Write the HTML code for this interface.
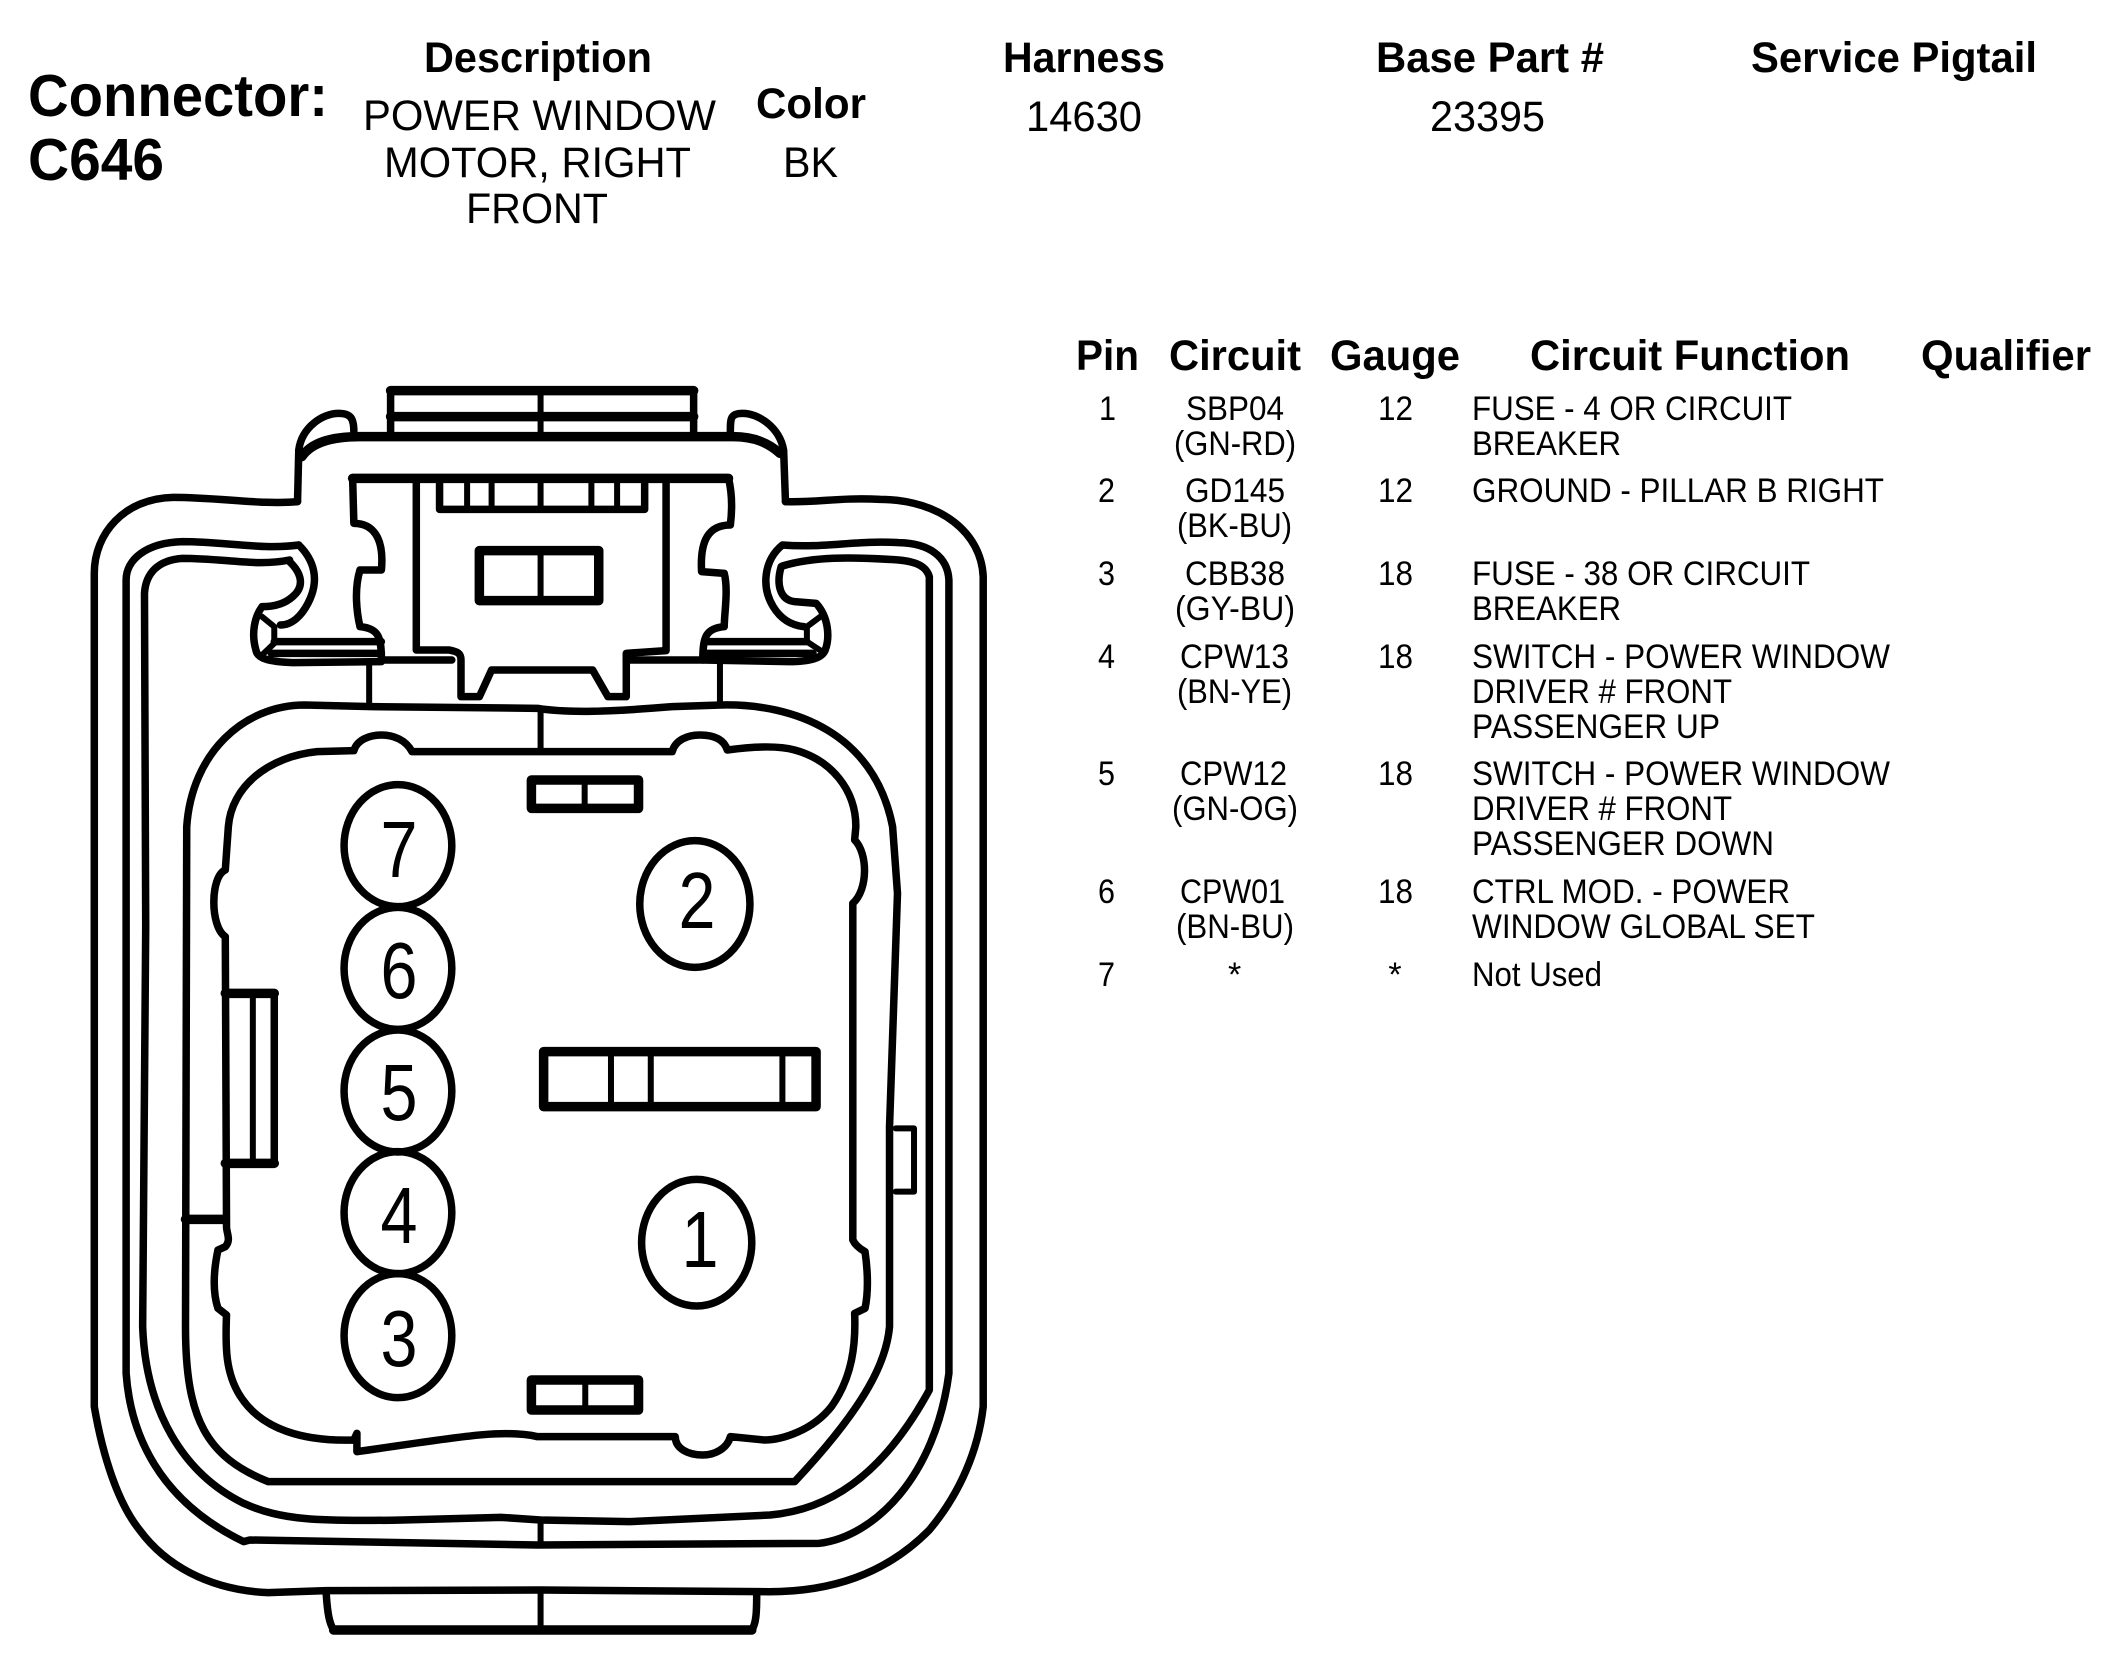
<!DOCTYPE html>
<html><head><meta charset="utf-8"><style>
html,body{margin:0;padding:0;background:#fff}
svg{display:block}
text{font-family:"Liberation Sans",sans-serif;fill:#000}
.b{font-weight:bold;font-size:43px}
.t{font-size:43px}
.c{font-size:34px}
.big{font-weight:bold;font-size:59px}
.d{font-size:80px;text-anchor:middle}
.l path,.l ellipse{fill:none;stroke:#000;stroke-width:7.5;vector-effect:non-scaling-stroke;stroke-linejoin:round;stroke-linecap:round}
.l .k{stroke-width:9.5}
.l .n{stroke-width:6}
</style></head><body>
<svg width="2124" height="1680" viewBox="0 0 2124 1680" xmlns="http://www.w3.org/2000/svg">
<rect width="2124" height="1680" fill="#fff"/>
<g class="l" transform="translate(60,360) scale(0.6122,0.33333)">
<path d="M388,425 C330,435 260,412 185,412 C105,415 56,520 56,640 L56,3140 C70,3290 95,3430 130,3510 C170,3610 240,3690 340,3698 L435,3692 L785,3690 L1145,3695 C1260,3700 1350,3640 1420,3510 C1470,3400 1500,3270 1508,3140 L1508,650 C1505,520 1440,420 1340,418 C1270,412 1240,428 1185,425"/>
<path d="M388,425 L390,270 C395,200 430,160 455,160 C475,160 480,175 480,215"/>
<path d="M1185,425 L1182,270 C1175,200 1140,160 1115,160 C1095,160 1095,175 1095,215"/>
<path d="M395,290 C410,250 440,230 490,230 L1100,230 C1135,230 1158,250 1176,280" class="k"/>
<path d="M540,228 V92 H1035 V228" />
<path class="k" d="M540,92 H1035 M540,170 H1035"/>
<path class="n" d="M785,92 V225"/>
<path d="M390,555 C330,570 270,545 200,545 C140,548 108,600 108,660 L108,3040 C115,3220 160,3420 300,3545 L310,3540 L780,3555 L1240,3550 C1330,3530 1430,3350 1452,3040 L1452,660 C1450,590 1420,550 1370,548 C1300,540 1250,565 1180,555 C1150,600 1145,680 1165,740 C1175,770 1190,795 1215,800"/>
<path d="M390,555 C415,600 425,660 405,730 C395,765 380,795 360,795"/>
<path d="M375,600 C320,620 270,595 200,595 C160,600 140,640 138,700 L140,1700 L135,2900 C140,3150 200,3340 300,3430 C360,3480 420,3485 560,3480 L720,3472 L785,3480 L930,3485 L1160,3465 C1250,3450 1340,3360 1420,3090 L1420,650 C1415,620 1400,605 1370,600 C1290,590 1230,590 1180,618"/>
<path d="M375,605 C395,640 400,680 380,710 C365,735 345,740 330,740 C318,770 312,820 320,870 C322,895 340,905 380,908 L525,905"/>
<path class="n" d="M330,770 L350,800 V850 L330,885"/>
<path d="M350,845 H525 M345,880 H525"/>
<path d="M1178,620 C1170,670 1175,720 1200,725 L1235,730 C1255,770 1258,830 1250,870 C1245,895 1225,905 1190,905 L1050,900"/>
<path class="n" d="M1242,770 L1220,800 V845 L1245,875"/>
<path d="M1055,845 H1220 M1055,880 H1230"/>
<path class="k" d="M478,355 H1092"/>
<path d="M478,355 L480,490 C510,490 530,530 525,630 L490,630 C480,690 485,760 490,800 C520,805 525,830 525,900 L640,900"/>
<path d="M1092,355 C1098,400 1098,450 1095,495 C1060,495 1045,540 1048,635 L1085,640 C1092,690 1085,760 1085,800 C1055,805 1050,830 1050,900 L925,900"/>
<path d="M582,365 V870 L635,870 C650,875 655,880 655,900 L655,1010 L685,1010 L705,930 L870,930 L895,1010 L925,1010 L925,880 L990,872 V365"/>
<path d="M620,370 V448 H955 V370"/>
<path class="n" d="M665,370 V440 M705,370 V440 M785,370 V440 M868,370 V440 M910,370 V440"/>
<path d="M685,572 H880 V722 H685 Z" class="k"/>
<path class="n" d="M785,572 V720"/>
<path class="n" d="M505,905 V1030 M1078,905 V1025 M785,1050 V1175"/>
<path d="M207,1400 C215,1180 300,1035 400,1035 L510,1040 L780,1045 C830,1060 900,1055 1000,1040 L1080,1035 C1200,1030 1330,1120 1360,1400 L1368,1600 L1355,2300 L1355,2900 C1350,3000 1320,3130 1200,3365 L340,3365 C240,3290 205,3180 205,2900 Z"/>
<path d="M575,1175 H1000 C1005,1140 1025,1125 1045,1125 C1070,1125 1085,1140 1090,1170 C1130,1160 1170,1155 1200,1170 C1260,1200 1300,1290 1300,1400 L1298,1440 C1320,1480 1320,1590 1295,1630 L1295,2640 C1300,2660 1310,2670 1315,2675 C1320,2740 1320,2800 1315,2845 L1298,2860 C1300,2950 1295,3050 1260,3140 C1230,3210 1180,3240 1150,3240 L1095,3230 C1090,3265 1070,3285 1050,3285 C1025,3285 1005,3265 1005,3230 L780,3230 C720,3205 640,3235 485,3275 L485,3220 L480,3240 C400,3245 330,3210 295,3110 C270,3040 270,2960 272,2865 L258,2845 C250,2800 250,2740 258,2670 L270,2660 C280,2640 272,2620 272,2600 L270,1730 C245,1700 245,1550 270,1530 L275,1400 C280,1280 340,1190 420,1175 L480,1172 C485,1140 505,1125 525,1125 C545,1125 565,1140 575,1175 Z"/>
<path d="M770,1260 H945 V1345 H770 Z" class="k"/>
<path class="n" d="M857,1260 V1345"/>
<path d="M770,3060 H945 V3150 H770 Z" class="k"/>
<path class="n" d="M858,3060 V3150"/>
<path d="M790,2075 H1235 V2240 H790 Z" class="k"/>
<path class="n" d="M900,2075 V2240 M965,2075 V2240 M1180,2075 V2240"/>
<path d="M270,1900 H350 V2410 H270"/>
<path class="k" d="M270,1900 H350 M270,2410 H350"/>
<path class="n" d="M315,1900 V2410"/>
<path class="k" d="M205,2578 H270"/>
<path class="n" d="M1365,2305 H1395 V2495 H1365"/>
<path class="n" d="M785,3490 V3550"/>
<path d="M435,3705 C437,3760 440,3790 447,3810 L1130,3810 C1137,3790 1138,3760 1138,3705"/>
<path class="k" d="M447,3810 H1130"/>
<path class="n" d="M785,3700 V3815"/>
<ellipse cx="552" cy="1457" rx="88" ry="183"/>
<ellipse cx="552" cy="1825" rx="88" ry="183"/>
<ellipse cx="552" cy="2193" rx="88" ry="183"/>
<ellipse cx="552" cy="2558" rx="88" ry="183"/>
<ellipse cx="552" cy="2927" rx="88" ry="186"/>
<ellipse cx="1037" cy="1632" rx="90" ry="190"/>
<ellipse cx="1040" cy="2648" rx="90" ry="190"/>
</g>
<text class="d" x="399" y="877" textLength="37" lengthAdjust="spacingAndGlyphs">7</text>
<text class="d" x="399" y="998" textLength="37" lengthAdjust="spacingAndGlyphs">6</text>
<text class="d" x="399" y="1120" textLength="37" lengthAdjust="spacingAndGlyphs">5</text>
<text class="d" x="399" y="1243" textLength="37" lengthAdjust="spacingAndGlyphs">4</text>
<text class="d" x="399" y="1366" textLength="37" lengthAdjust="spacingAndGlyphs">3</text>
<text class="d" x="697" y="928" textLength="37" lengthAdjust="spacingAndGlyphs">2</text>
<text class="d" x="700" y="1267" textLength="37" lengthAdjust="spacingAndGlyphs">1</text>

<text class="big" x="28" y="116" textLength="300" lengthAdjust="spacingAndGlyphs">Connector:</text>
<text class="big" x="28" y="180" textLength="136" lengthAdjust="spacingAndGlyphs">C646</text>
<text class="b" x="424" y="72" textLength="228" lengthAdjust="spacingAndGlyphs">Description</text>
<text class="t" x="363" y="130" textLength="353" lengthAdjust="spacingAndGlyphs">POWER WINDOW</text>
<text class="t" x="384" y="177" textLength="307" lengthAdjust="spacingAndGlyphs">MOTOR, RIGHT</text>
<text class="t" x="466" y="223" textLength="142" lengthAdjust="spacingAndGlyphs">FRONT</text>
<text class="b" x="756" y="118" textLength="110" lengthAdjust="spacingAndGlyphs">Color</text>
<text class="t" x="783" y="177" textLength="55" lengthAdjust="spacingAndGlyphs">BK</text>
<text class="b" x="1003" y="72" textLength="162" lengthAdjust="spacingAndGlyphs">Harness</text>
<text class="b" x="1376" y="72" textLength="228" lengthAdjust="spacingAndGlyphs">Base Part #</text>
<text class="b" x="1751" y="72" textLength="286" lengthAdjust="spacingAndGlyphs">Service Pigtail</text>
<text class="t" x="1026" y="131" textLength="116" lengthAdjust="spacingAndGlyphs">14630</text>
<text class="t" x="1430" y="131" textLength="115" lengthAdjust="spacingAndGlyphs">23395</text>

<text class="b" x="1076" y="370" textLength="63" lengthAdjust="spacingAndGlyphs">Pin</text>
<text class="b" x="1169" y="370" textLength="132" lengthAdjust="spacingAndGlyphs">Circuit</text>
<text class="b" x="1330" y="370" textLength="130" lengthAdjust="spacingAndGlyphs">Gauge</text>
<text class="b" x="1530" y="370" textLength="320" lengthAdjust="spacingAndGlyphs">Circuit Function</text>
<text class="b" x="1921" y="370" textLength="170" lengthAdjust="spacingAndGlyphs">Qualifier</text>

<g class="c">
<text x="1099" y="420" textLength="17" lengthAdjust="spacingAndGlyphs">1</text>
<text x="1098" y="502" textLength="17" lengthAdjust="spacingAndGlyphs">2</text>
<text x="1098" y="585" textLength="17" lengthAdjust="spacingAndGlyphs">3</text>
<text x="1098" y="668" textLength="17" lengthAdjust="spacingAndGlyphs">4</text>
<text x="1098" y="785" textLength="17" lengthAdjust="spacingAndGlyphs">5</text>
<text x="1098" y="903" textLength="17" lengthAdjust="spacingAndGlyphs">6</text>
<text x="1098" y="986" textLength="17" lengthAdjust="spacingAndGlyphs">7</text>

<text x="1186" y="420" textLength="98" lengthAdjust="spacingAndGlyphs">SBP04</text>
<text x="1174" y="455" textLength="122" lengthAdjust="spacingAndGlyphs">(GN-RD)</text>
<text x="1185" y="502" textLength="100" lengthAdjust="spacingAndGlyphs">GD145</text>
<text x="1177" y="537" textLength="115" lengthAdjust="spacingAndGlyphs">(BK-BU)</text>
<text x="1185" y="585" textLength="100" lengthAdjust="spacingAndGlyphs">CBB38</text>
<text x="1175" y="620" textLength="120" lengthAdjust="spacingAndGlyphs">(GY-BU)</text>
<text x="1180" y="668" textLength="109" lengthAdjust="spacingAndGlyphs">CPW13</text>
<text x="1177" y="703" textLength="115" lengthAdjust="spacingAndGlyphs">(BN-YE)</text>
<text x="1180" y="785" textLength="107" lengthAdjust="spacingAndGlyphs">CPW12</text>
<text x="1172" y="820" textLength="126" lengthAdjust="spacingAndGlyphs">(GN-OG)</text>
<text x="1180" y="903" textLength="105" lengthAdjust="spacingAndGlyphs">CPW01</text>
<text x="1176" y="938" textLength="118" lengthAdjust="spacingAndGlyphs">(BN-BU)</text>
<text x="1228" y="986">*</text>

<text x="1378" y="420" textLength="35" lengthAdjust="spacingAndGlyphs">12</text><text x="1378" y="502" textLength="35" lengthAdjust="spacingAndGlyphs">12</text>
<text x="1378" y="585" textLength="35" lengthAdjust="spacingAndGlyphs">18</text><text x="1378" y="668" textLength="35" lengthAdjust="spacingAndGlyphs">18</text>
<text x="1378" y="785" textLength="35" lengthAdjust="spacingAndGlyphs">18</text><text x="1378" y="903" textLength="35" lengthAdjust="spacingAndGlyphs">18</text>
<text x="1395" y="986" text-anchor="middle">*</text>

<text x="1472" y="420" textLength="320" lengthAdjust="spacingAndGlyphs">FUSE - 4 OR CIRCUIT</text>
<text x="1472" y="455" textLength="149" lengthAdjust="spacingAndGlyphs">BREAKER</text>
<text x="1472" y="502" textLength="412" lengthAdjust="spacingAndGlyphs">GROUND - PILLAR B RIGHT</text>
<text x="1472" y="585" textLength="338" lengthAdjust="spacingAndGlyphs">FUSE - 38 OR CIRCUIT</text>
<text x="1472" y="620" textLength="149" lengthAdjust="spacingAndGlyphs">BREAKER</text>
<text x="1472" y="668" textLength="418" lengthAdjust="spacingAndGlyphs">SWITCH - POWER WINDOW</text>
<text x="1472" y="703" textLength="260" lengthAdjust="spacingAndGlyphs">DRIVER # FRONT</text>
<text x="1472" y="738" textLength="248" lengthAdjust="spacingAndGlyphs">PASSENGER UP</text>
<text x="1472" y="785" textLength="418" lengthAdjust="spacingAndGlyphs">SWITCH - POWER WINDOW</text>
<text x="1472" y="820" textLength="260" lengthAdjust="spacingAndGlyphs">DRIVER # FRONT</text>
<text x="1472" y="855" textLength="302" lengthAdjust="spacingAndGlyphs">PASSENGER DOWN</text>
<text x="1472" y="903" textLength="318" lengthAdjust="spacingAndGlyphs">CTRL MOD. - POWER</text>
<text x="1472" y="938" textLength="343" lengthAdjust="spacingAndGlyphs">WINDOW GLOBAL SET</text>
<text x="1472" y="986" textLength="130" lengthAdjust="spacingAndGlyphs">Not Used</text>
</g>
</svg>
</body></html>
